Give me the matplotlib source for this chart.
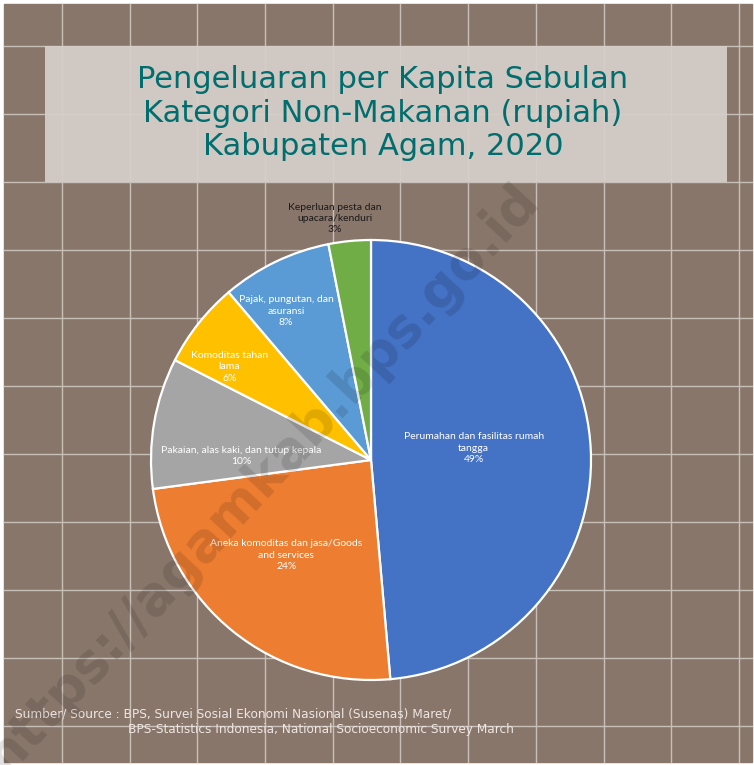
import numpy as np
import matplotlib.pyplot as plt
from matplotlib.patches import Rectangle

# data
kategori = [
    "Perumahan dan fasilitas rumah\ntangga",
    "Aneka komoditas dan jasa/Goods\nand services",
    "Pakaian, alas kaki, dan tutup kepala",
    "Komoditas tahan\nlama",
    "Pajak, pungutan, dan\nasuransi",
    "Keperluan pesta dan\nupacara/kenduri",
]
persen = [48.6, 24.3, 9.6, 6.3, 8.1, 3.1]
warna = ["#4472C4", "#ED7D31", "#A5A5A5", "#FFC000", "#5B9BD5", "#70AD47"]

judul = "Pengeluaran per Kapita Sebulan\nKategori Non-Makanan (rupiah)\nKabupaten Agam, 2020"
sumber1 = "Sumber/ Source : BPS, Survei Sosial Ekonomi Nasional (Susenas) Maret/"
sumber2 = "BPS-Statistics Indonesia, National Socioeconomic Survey March"
watermark = "https://agamkab.bps.go.id"

# posisi label (jarak relatif ke jari-jari, geser sudut dalam derajat)
label_jarak = [0.47, 0.58, 0.59, 0.77, 0.78, 1.11]
label_geser = [4, -3, 8, 5, 4, 3]
label_warna = ["white", "white", "white", "white", "white", "#1a1a1a"]

W, H = 754, 765
fig = plt.figure(figsize=(W / 100, H / 100), dpi=100, facecolor="white")

# latar belakang ubin
bg = fig.add_axes([0, 0, 1, 1])
bg.set_xlim(0, W)
bg.set_ylim(H, 0)
bg.axis("off")
bg.add_patch(Rectangle((4, 4), 748, 758, color="#89766A", zorder=0))
for x in np.arange(62, 750, 67.7):
    bg.plot([x, x], [4, 762], color="#C9BFB9", lw=1.0, zorder=1)
for y in np.arange(46, 760, 68):
    bg.plot([4, 752], [y, y], color="#C9BFB9", lw=1.0, zorder=1)

# kotak judul
bg.add_patch(Rectangle((45, 46), 682, 136, facecolor="#D6CFCA", alpha=0.93, lw=0, zorder=2))
bg.text(383, 113, judul, ha="center", va="center", fontsize=22, color="#006E6E",
        linespacing=1.2, zorder=3)

# sumber
bg.text(15, 714, sumber1, ha="left", va="center", fontsize=8.7, color="#EDE6E2", zorder=3)
bg.text(128, 729, sumber2, ha="left", va="center", fontsize=8.7, color="#EDE6E2", zorder=3)

# pie
cx, cy, r = 371, 460, 220
ax = fig.add_axes([(cx - r) / W, (H - cy - r) / H, 2 * r / W, 2 * r / H])
wedges, _ = ax.pie(persen, colors=warna, startangle=90, counterclock=False,
                   wedgeprops=dict(edgecolor="white", linewidth=1.6))
ax.set_xlim(-1, 1)
ax.set_ylim(-1, 1)
ax.axis("off")

for w, nama, p, jarak, geser, wt in zip(wedges, kategori, persen, label_jarak, label_geser, label_warna):
    sudut = np.deg2rad((w.theta1 + w.theta2) / 2 + geser)
    ax.text(jarak * np.cos(sudut), jarak * np.sin(sudut), f"{nama}\n{p:.0f}%",
            ha="center", va="center", fontsize=7.5, family="Lato", color=wt,
            linespacing=1.35, clip_on=False)

# watermark
fig.text(262 / W, 1 - 478 / H, watermark, ha="center", va="center", rotation=47,
         fontsize=38, fontweight="bold", color="black", alpha=0.12, zorder=10)

fig.savefig("out.png", dpi=100, facecolor=fig.get_facecolor())
